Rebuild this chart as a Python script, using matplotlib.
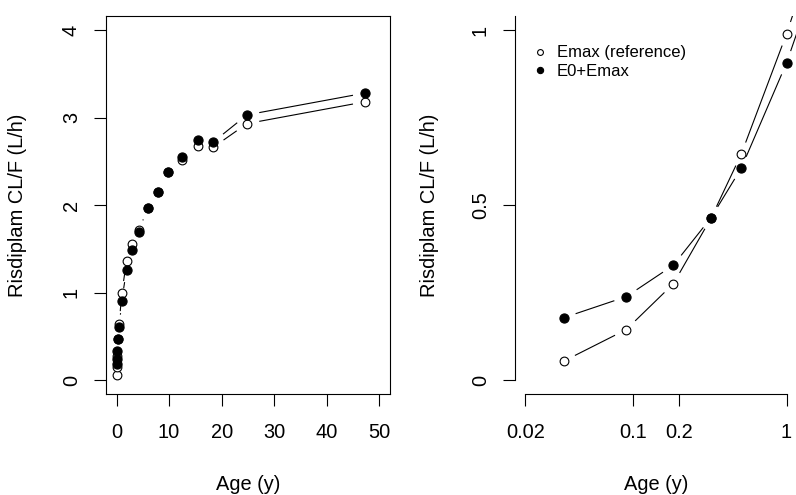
import numpy as np
import matplotlib
matplotlib.use("Agg")
import matplotlib.pyplot as plt
from matplotlib.lines import Line2D
from matplotlib.ticker import FixedLocator, NullLocator, FixedFormatter

plt.rcParams['font.family'] = ['Liberation Sans', 'DejaVu Sans']

# data
age = [0.0355, 0.0905, 0.1835, 0.323, 0.507, 1.0, 1.9, 2.9, 4.2, 5.9, 7.9,
       9.8, 12.4, 15.4, 18.4, 24.8, 47.3]
cl_emax = [0.054, 0.144, 0.275, 0.463, 0.645, 0.989, 1.36, 1.55, 1.72, 1.97,
           2.15, 2.38, 2.52, 2.67, 2.66, 2.93, 3.18]
cl_e0emax = [0.178, 0.238, 0.328, 0.464, 0.605, 0.906, 1.26, 1.49, 1.69, 1.97,
             2.15, 2.38, 2.55, 2.74, 2.72, 3.03, 3.28]

left_xticks = [0, 10, 20, 30, 40, 50]
left_yticks = [0, 1, 2, 3, 4]
right_xticks = [0.02, 0.1, 0.2, 1]
right_xlabels = ["0.02", "0.1", "0.2", "1"]
right_yticks = [0, 0.5, 1]
right_ylabels = ["0", "0.5", "1"]

W, H = 796, 495
FS = 14.4
LW = 0.8
GAP = 12.5  # px, like R type="b"


def gap_lines(ax, x, y):
    # segments between points, cut back near each point
    pts = ax.transData.transform(np.column_stack([x, y]))
    inv = ax.transData.inverted()
    for p0, p1 in zip(pts[:-1], pts[1:]):
        d = p1 - p0
        L = np.hypot(d[0], d[1])
        if L <= 2 * GAP:
            continue
        u = d / L
        a = inv.transform(p0 + u * GAP)
        b = inv.transform(p1 - u * GAP)
        ax.plot([a[0], b[0]], [a[1], b[1]], color='black', lw=LW,
                solid_capstyle='butt')


def draw_series(ax):
    gap_lines(ax, age, cl_emax)
    gap_lines(ax, age, cl_e0emax)
    ax.plot(age, cl_emax, 'o', ls='none', mfc='white', mec='black', ms=6.3, mew=0.8)
    ax.plot(age, cl_e0emax, 'o', ls='none', mfc='black', mec='black', ms=6.6, mew=0.8)


def style_ticks(ax):
    ax.tick_params(axis='both', direction='out', length=8.6, width=LW,
                   labelsize=FS, colors='black')
    ax.tick_params(axis='x', pad=12.5)
    ax.tick_params(axis='y', pad=9.5, labelrotation=90)
    for lab in ax.get_yticklabels():
        lab.set_va('center')


fig = plt.figure(figsize=(W / 100, H / 100), dpi=100)

# left panel, linear age
ax1 = fig.add_axes([106 / W, 1 - 394 / H, 284 / W, 378 / H])
ax1.set_xlim(-2, 52)
ax1.set_ylim(-0.16, 4.16)
ax1.autoscale(False)
ax1.set_xticks(left_xticks)
ax1.set_yticks(left_yticks)
ax1.set_yticklabels([str(v) for v in left_yticks])
for s in ax1.spines.values():
    s.set_linewidth(LW)
draw_series(ax1)
style_ticks(ax1)

# right panel, log age
ax2 = fig.add_axes([515 / W, 1 - 394 / H, 282 / W, 378 / H])
ax2.set_xscale('log')
ax2.set_xlim(10 ** -1.767, 10 ** 0.068)
ax2.set_ylim(-0.04, 1.04)
ax2.autoscale(False)
ax2.xaxis.set_major_locator(FixedLocator(right_xticks))
ax2.xaxis.set_major_formatter(FixedFormatter(right_xlabels))
ax2.xaxis.set_minor_locator(NullLocator())
ax2.yaxis.set_major_locator(FixedLocator(right_yticks))
ax2.yaxis.set_major_formatter(FixedFormatter(right_ylabels))
ax2.spines['top'].set_visible(False)
ax2.spines['right'].set_visible(False)
ax2.spines['left'].set_bounds(0, 1.04)
ax2.spines['bottom'].set_bounds(0.02, 1)
for s in ax2.spines.values():
    s.set_linewidth(LW)
draw_series(ax2)
style_ticks(ax2)

handles = [
    Line2D([], [], marker='o', ls='none', mfc='white', mec='black', ms=4.2, mew=0.8),
    Line2D([], [], marker='o', ls='none', mfc='black', mec='black', ms=4.5, mew=0.8),
]
ax2.legend(handles, ["Emax (reference)", "E0+Emax"], loc='upper left',
           bbox_to_anchor=(0.071, 0.922), frameon=False, fontsize=12,
           handlelength=0.6, handletextpad=0.7, labelspacing=0.2,
           borderpad=0, borderaxespad=0)

# axis titles
for xc in (248, 656):
    fig.text(xc / W, 1 - 490 / H, "Age (y)", ha='center', va='baseline', fontsize=FS)
for xc in (18, 430):
    fig.text(xc / W, 1 - 205 / H, "Risdiplam CL/F (L/h)", rotation=90,
             ha='center', va='center', fontsize=FS)

fig.savefig("out.png", dpi=100)
